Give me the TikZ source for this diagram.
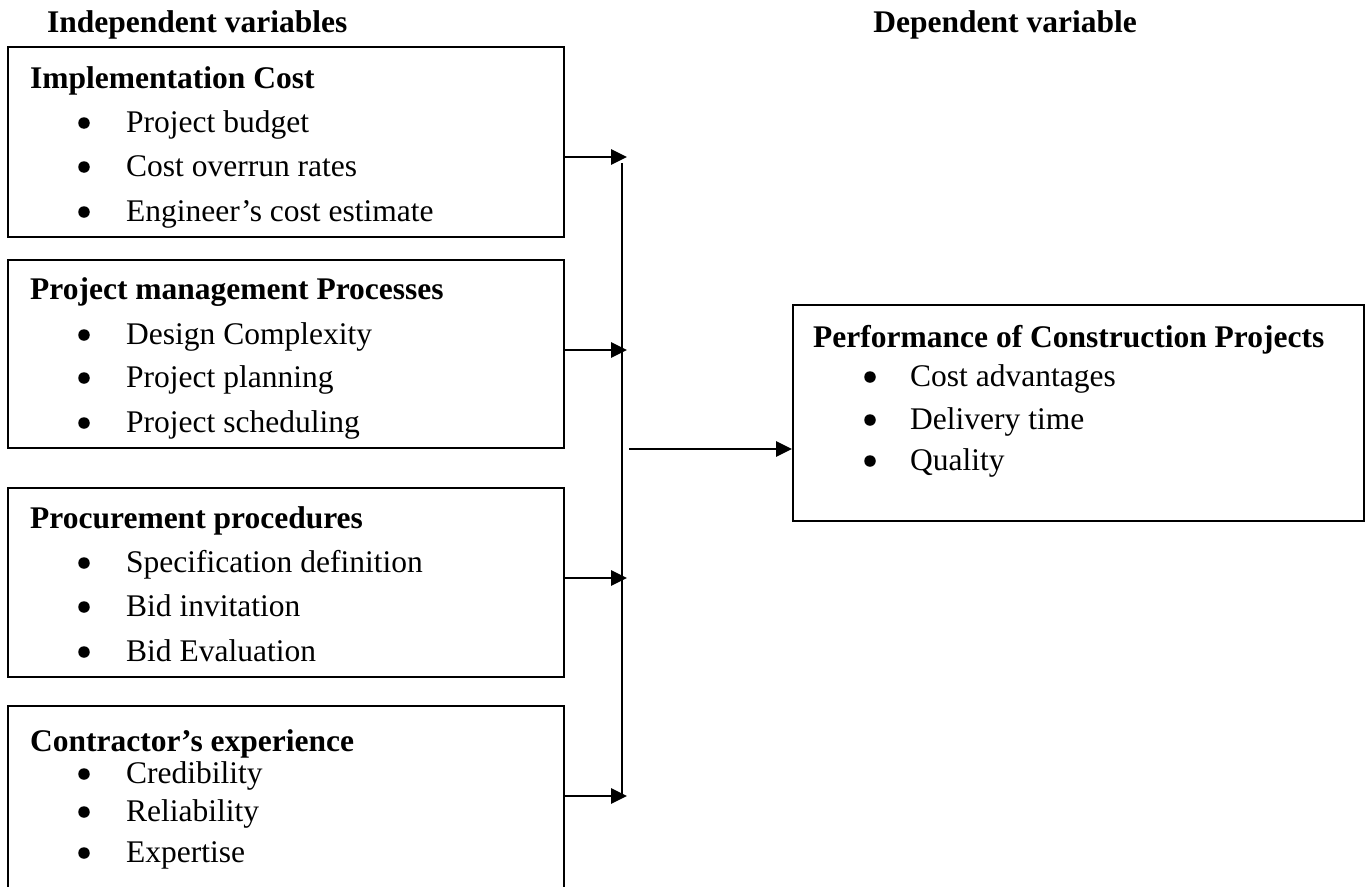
\documentclass[tikz,border=0pt]{standalone}
\usepackage{fontspec}
\setmainfont{Liberation Serif}
\usetikzlibrary{arrows.meta}
\begin{document}
\begin{tikzpicture}[x=1pt,y=-1pt,
  box/.style={draw, line width=2pt, inner sep=0pt, anchor=north west},
  txt/.style={inner sep=0pt, anchor=base west, font=\fontsize{31.5}{38}\selectfont},
  hd/.style={inner sep=0pt, anchor=base west, font=\fontsize{31.5}{38}\selectfont\bfseries},
  dot/.style={circle, fill, inner sep=0pt, minimum size=11.5pt},
  arr/.style={line width=2.8pt, -{Triangle[length=16pt,width=15pt]}},
  ln/.style={line width=2.2pt}]
\useasboundingbox (0,0) rectangle (1370,886);
\clip (0,0) rectangle (1370,886);
% headers
\node[hd] (hi) at (47,32) {Independent variables};
\node[hd, anchor=base east] (hdv) at (1137,32) {Dependent variable};
% boxes
\node[box, minimum width=556pt, minimum height=190pt] (b1) at (7,46) {};
\node[box, minimum width=556pt, minimum height=188pt] (b2) at (7,259) {};
\node[box, minimum width=556pt, minimum height=189pt] (b3) at (7,487) {};
\node[box, minimum width=556pt, minimum height=220pt] (b4) at (7,705) {};
\node[box, minimum width=571pt, minimum height=216pt] (r) at (792,304) {};
% box 1
\node[hd] (t1) at (30,88) {Implementation Cost};
\foreach \y/\t [count=\i] in {123/Project budget, 167/Cost overrun rates, 212/Engineer’s cost estimate}{
  \node[dot] (d1\i) at (84,\y) {};
  \node[txt] (i1\i) at (126,\y+9) {\t};
}
% box 2
\node[hd] (t2) at (30,299) {Project management Processes};
\foreach \y/\t [count=\i] in {335/Design Complexity, 378/Project planning, 423/Project scheduling}{
  \node[dot] (d2\i) at (84,\y) {};
  \node[txt] (i2\i) at (126,\y+9) {\t};
}
% box 3
\node[hd] (t3) at (30,528) {Procurement procedures};
\foreach \y/\t [count=\i] in {563/Specification definition, 607/Bid invitation, 652/Bid Evaluation}{
  \node[dot] (d3\i) at (84,\y) {};
  \node[txt] (i3\i) at (126,\y+9) {\t};
}
% box 4
\node[hd] (t4) at (30,751) {Contractor’s experience};
\foreach \y/\t [count=\i] in {774/Credibility, 812/Reliability, 853/Expertise}{
  \node[dot] (d4\i) at (84,\y) {};
  \node[txt] (i4\i) at (126,\y+9) {\t};
}
% right box
\node[hd] (tr) at (813,347) {Performance of Construction Projects};
\foreach \y/\t [count=\i] in {377/Cost advantages, 420/Delivery time, 461/Quality}{
  \node[dot] (dr\i) at (870,\y) {};
  \node[txt] (ir\i) at (910,\y+9) {\t};
}
% connectors
\coordinate (j1) at (627,157);
\coordinate (j2) at (627,350);
\coordinate (j3) at (627,578);
\coordinate (j4) at (627,796);
\coordinate (vt) at (622,163);
\coordinate (vb) at (622,796);
\coordinate (m) at (629,449);
\draw[arr] (b1.east |- j1) -- (j1);
\draw[arr] (b2.east |- j2) -- (j2);
\draw[arr] (b3.east |- j3) -- (j3);
\draw[arr] (b4.east |- j4) -- (j4);
\draw[ln] (vt) -- (vb);
\draw[arr] (m) -- (r.west |- m);
\end{tikzpicture}
\end{document}
